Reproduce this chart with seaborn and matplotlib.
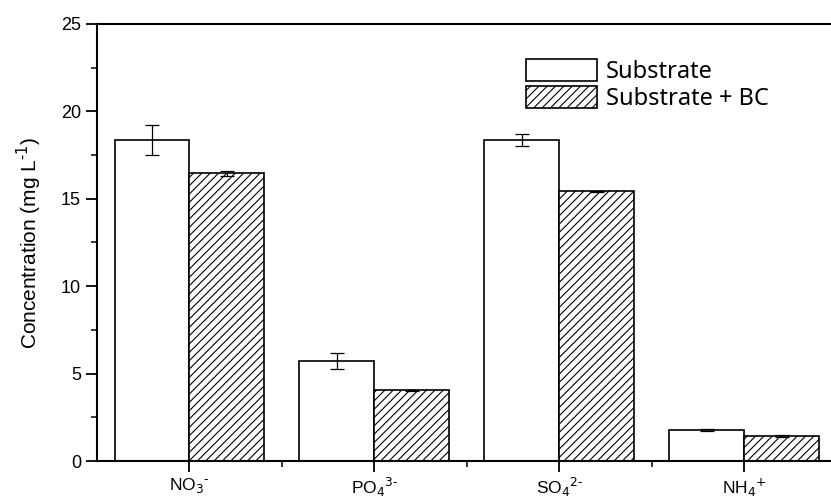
import matplotlib
matplotlib.use("Agg")
import matplotlib.pyplot as plt
from matplotlib.ticker import MultipleLocator, FixedLocator
import seaborn as sns
import pandas as pd
import numpy as np

ions = ["NO$_3$$^{\\text{-}}$", "PO$_4$$^{\\text{3-}}$", "SO$_4$$^{\\text{2-}}$", "NH$_4$$^{\\text{+}}$"]
groups = ["Substrate", "Substrate + BC"]
substrate = [18.35, 5.72, 18.38, 1.77]
substrate_err = [0.85, 0.45, 0.35, 0.04]
substrate_bc = [16.45, 4.05, 15.42, 1.43]
substrate_bc_err = [0.15, 0.03, 0.03, 0.03]

df = pd.DataFrame({
    "ion": ions * 2,
    "group": [groups[0]] * 4 + [groups[1]] * 4,
    "value": substrate + substrate_bc,
})

sns.set_theme(style="ticks")
plt.rcParams["font.family"] = ["Liberation Sans", "DejaVu Sans"]
plt.rcParams["hatch.linewidth"] = 0.8
plt.rcParams["hatch.color"] = "black"
plt.rcParams["text.color"] = "black"

fig = plt.figure(figsize=(8.31, 4.98), dpi=100)
ax = fig.add_axes([97 / 831, 37 / 498, 1 - 97 / 831, (461 - 24) / 498])

sns.barplot(data=df, x="ion", y="value", hue="group", order=ions, hue_order=groups,
            palette=["white", "white"], edgecolor="black", linewidth=1.2,
            width=0.81, errorbar=None, ax=ax, legend=True)

n = len(ions)
errs = substrate_err + substrate_bc_err
for i, p in enumerate(ax.patches[:2 * n]):
    if i >= n:
        p.set_hatch("////")
    cx = p.get_x() + p.get_width() / 2
    ax.errorbar(cx, p.get_height(), yerr=errs[i], color="black", lw=0.9,
                capsize=5, capthick=0.9, zorder=5)

ax.set_xlim(-0.5, 3.47)
ax.set_ylim(0, 25)
ax.yaxis.set_major_locator(MultipleLocator(5))
ax.yaxis.set_minor_locator(MultipleLocator(2.5))
ax.xaxis.set_minor_locator(FixedLocator([0.5, 1.5, 2.5]))
ax.tick_params(axis="both", which="both", bottom=True, left=True, top=False, right=False)
ax.tick_params(axis="both", which="major", direction="out", length=8, width=1.3,
               labelsize=13, colors="black")
ax.tick_params(axis="both", which="minor", direction="out", length=4, width=1.3)
ax.tick_params(axis="x", which="major", pad=3, labelsize=12.5)
for s in ["left", "bottom", "top"]:
    ax.spines[s].set_visible(True)
    ax.spines[s].set_color("black")
    ax.spines[s].set_linewidth(1.5)
ax.spines["right"].set_visible(False)
ax.set_xlabel("")
ax.set_ylabel("Concentration (mg L$^{\\text{-1}}$)", fontsize=15, color="black",
              family=["Liberation Sans Narrow", "Liberation Sans", "DejaVu Sans"], labelpad=12)

handles, labels = ax.get_legend_handles_labels()
if ax.get_legend() is not None:
    ax.get_legend().remove()
handles[1].set_hatch("////")
leg = fig.legend(handles, labels, loc="upper left", bbox_to_anchor=(514 / 831, 1 - 47 / 498),
                 frameon=False, borderpad=0, handlelength=3.0, handleheight=1.05,
                 handletextpad=0.4, labelspacing=0.1,
                 prop={"family": ["Noto Sans", "DejaVu Sans"], "size": 17})
for t in leg.get_texts():
    t.set_color("black")

fig.savefig("out.png", dpi=100)
